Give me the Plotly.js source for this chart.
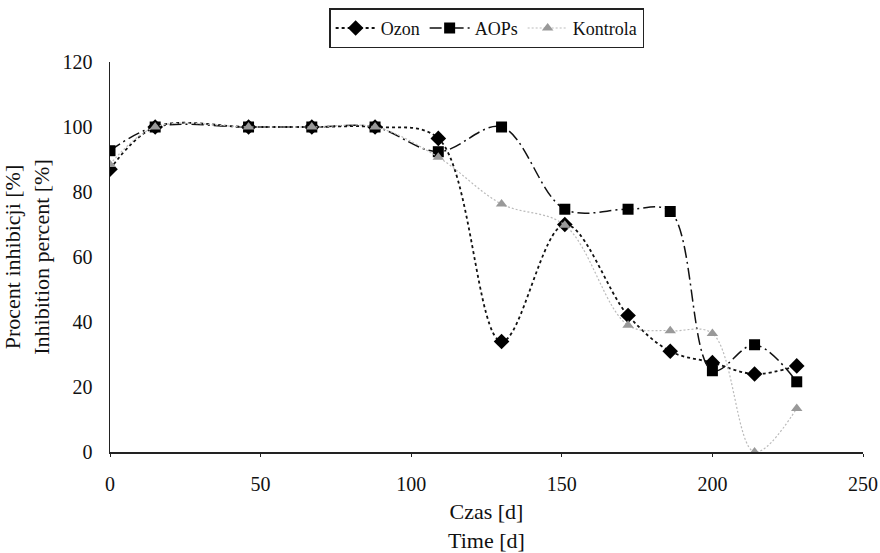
<!DOCTYPE html>
<html>
<head>
<meta charset="utf-8">
<script src="https://cdn.plot.ly/plotly-3.0.1.min.js"></script>
<style>html,body{margin:0;padding:0;background:#fff;}#chart{width:880px;height:553px;}</style>
</head>
<body>
<div id="chart"></div>
<script>
var days = [0, 15, 46, 67, 88, 109, 130, 151, 172, 186, 200, 214, 228];
var ozon = [87, 100, 100, 100, 100, 96.5, 34, 70, 42, 31, 27.5, 24, 26.5];
var aops = [92.7, 100, 100, 100, 100, 92.4, 100, 74.7, 74.7, 74, 25, 33, 21.6];
var kontrola = [88.5, 100, 100, 100, 100, 90.7, 76.3, 69.8, 39, 37.3, 36.5, 0, 13.4];
var seriesNames = ["Ozon", "AOPs", "Kontrola"];
var xTicks = [0, 50, 100, 150, 200, 250];
var yTicks = [0, 20, 40, 60, 80, 100, 120];

var font = "'Liberation Serif', serif";

var traces = [
  {x: days, y: ozon, name: seriesNames[0], mode: "lines+markers", type: "scatter",
   line: {color: "#111", width: 1.8, dash: "3px,3px", shape: "spline", smoothing: 1},
   marker: {symbol: "diamond", size: 12, color: "#000"}},
  {x: days, y: aops, name: seriesNames[1], mode: "lines+markers", type: "scatter",
   line: {color: "#111", width: 1.5, dash: "12px,4px,2px,4px", shape: "spline", smoothing: 1},
   marker: {symbol: "square", size: 11, color: "#000"}},
  {x: days, y: kontrola, name: seriesNames[2], mode: "lines+markers", type: "scatter",
   line: {color: "#bbb", width: 1.2, dash: "2px,2px", shape: "spline", smoothing: 1},
   marker: {symbol: "triangle-up", size: 10, color: "#999"}}
];

var layout = {
  width: 880, height: 553,
  margin: {l: 110, r: 17, t: 62, b: 101},
  paper_bgcolor: "#fff", plot_bgcolor: "#fff",
  font: {family: font, size: 19, color: "#111"},
  showlegend: true,
  legend: {orientation: "h", x: 0.553, xanchor: "center", y: 0.985, yanchor: "top",
           xref: "container", yref: "container",
           bordercolor: "#222", borderwidth: 1.5, font: {family: font, size: 18, color: "#111"},
           itemwidth: 40, tracegroupgap: 0},
  xaxis: {range: [0, 250], tickvals: xTicks, ticktext: xTicks.map(String),
          showgrid: false, zeroline: false, showline: true, linecolor: "#222", linewidth: 1.5,
          ticks: "outside", ticklen: 3, tickcolor: "#222", tickfont: {family: font, size: 20},
          ticklabelstandoff: 10,
          title: {text: "Czas [d]<br>Time [d]", font: {family: font, size: 22}, standoff: 16}},
  yaxis: {range: [0, 120], tickvals: yTicks, ticktext: yTicks.map(String),
          showgrid: false, zeroline: false, showline: true, linecolor: "#222", linewidth: 1.5,
          ticks: "", tickfont: {family: font, size: 20}, ticklabelstandoff: 12,
          title: {text: "Procent inhibicji [%]<br>Inhibition percent [%]", font: {family: font, size: 22}, standoff: 8}}
};
Plotly.newPlot("chart", traces, layout, {displayModeBar: false, staticPlot: true});
</script>
</body>
</html>
